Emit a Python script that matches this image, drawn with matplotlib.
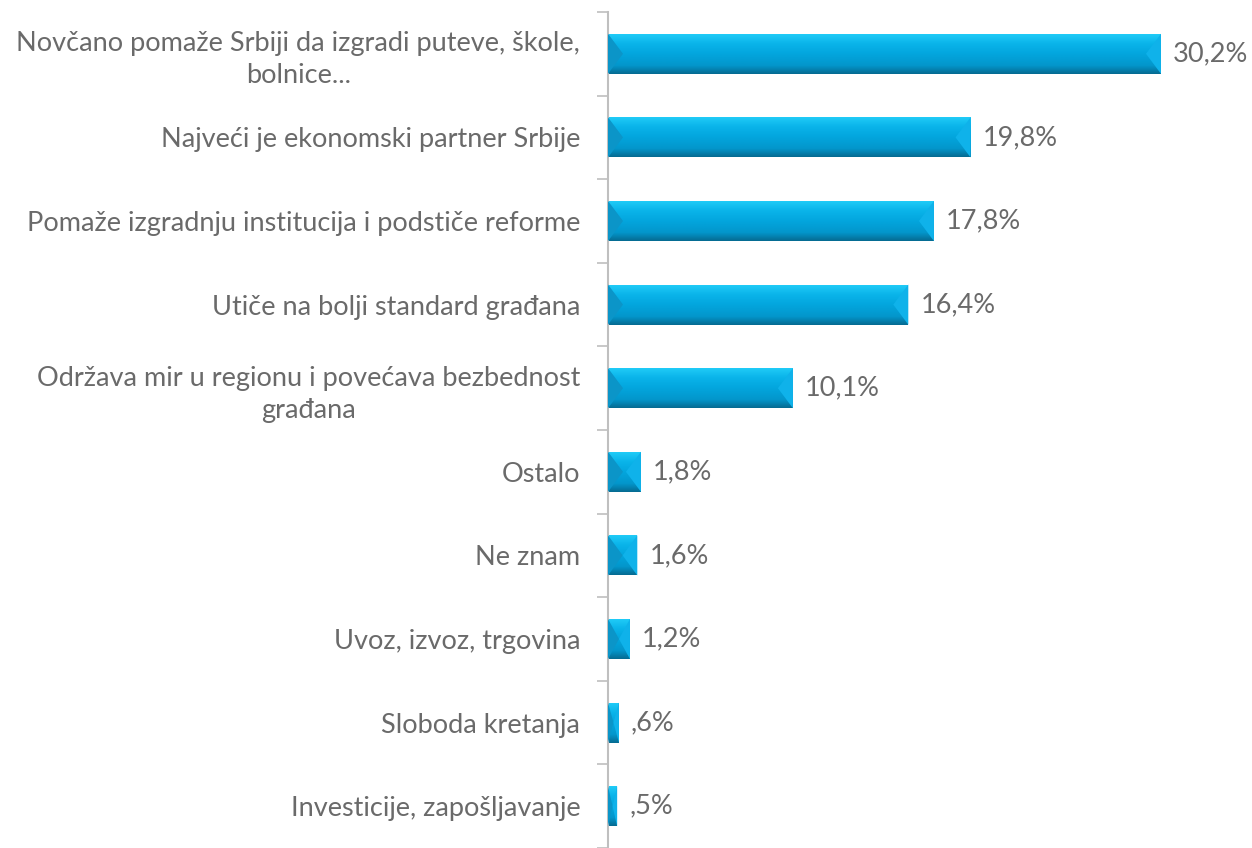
import numpy as np
import matplotlib.pyplot as plt
from matplotlib.patches import Polygon
from matplotlib.colors import LinearSegmentedColormap

categories = [
    "Novčano pomaže Srbiji da izgradi puteve, škole,\nbolnice...",
    "Najveći je ekonomski partner Srbije",
    "Pomaže izgradnju institucija i podstiče reforme",
    "Utiče na bolji standard građana",
    "Održava mir u regionu i povećava bezbednost\ngrađana",
    "Ostalo",
    "Ne znam",
    "Uvoz, izvoz, trgovina",
    "Sloboda kretanja",
    "Investicije, zapošljavanje",
]
values = [30.2, 19.8, 17.8, 16.4, 10.1, 1.8, 1.6, 1.2, 0.6, 0.5]
value_labels = ["30,2%", "19,8%", "17,8%", "16,4%", "10,1%", "1,8%", "1,6%", "1,2%", ",6%", ",5%"]

plt.rcParams['font.family'] = ['Lato', 'DejaVu Sans']
GRAY = '#6a6a6a'

fig = plt.figure(figsize=(12.52, 8.48), dpi=100)
ax = fig.add_axes([608 / 1252, 0, 644 / 1252, 836 / 848])

n = len(categories)
xmax = 35.17
ax.set_xlim(0, xmax)
ax.set_ylim(n - 0.5, -0.5)

grad = LinearSegmentedColormap.from_list(
    'bar', [(0, '#22cdf8'), (0.25, '#0ab4ea'), (0.5, '#03a6de'),
            (0.8, '#0396cb'), (1, '#066b92')])
img = np.linspace(0, 1, 64).reshape(-1, 1)

h = 0.48
px_x = xmax / 644
bev = 15 * px_x
for i, v in enumerate(values):
    top, bot = i - h / 2, i + h / 2
    rect = Polygon([(0, top), (v, top), (v, bot), (0, bot)], closed=True,
                   facecolor='none', edgecolor='none')
    ax.add_patch(rect)
    im = ax.imshow(img, cmap=grad, aspect='auto', extent=(0, v, bot, top),
                   interpolation='bilinear', zorder=2)
    im.set_clip_path(rect)
    d = min(bev, v / 2)
    ax.add_patch(Polygon([(0, top), (d, i), (0, bot)], closed=True,
                         facecolor='#0b95c8', edgecolor='none', zorder=3))
    ax.add_patch(Polygon([(v, top), (v - d, i), (v, bot)], closed=True,
                         facecolor='#0fb2ea', edgecolor='none', zorder=3))
    ax.text(v + 12 * px_x, i, value_labels[i], ha='left', va='center',
            fontsize=19.5, color=GRAY)

ax.set_yticks(range(n))
ax.set_yticklabels(categories, fontsize=19.5, color=GRAY, multialignment='center',
                   linespacing=1.35)
ax.tick_params(axis='y', which='major', length=0, pad=20)
ax.set_yticks(np.arange(-0.5, n, 1), minor=True)
ax.tick_params(axis='y', which='minor', length=8, width=1.2, color='#bfbfbf')
ax.set_xticks([])

for s in ['top', 'right', 'bottom']:
    ax.spines[s].set_visible(False)
ax.spines['left'].set_color('#bfbfbf')
ax.spines['left'].set_linewidth(1.5)

fig.savefig('out.png', dpi=100)
